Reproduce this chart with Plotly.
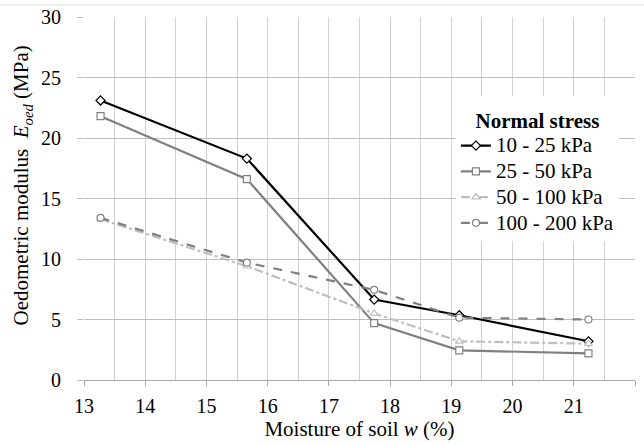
import plotly.graph_objects as go

moisture = [13.27, 15.66, 17.74, 19.13, 21.24]
s_10_25 = [23.1, 18.3, 6.65, 5.35, 3.2]
s_25_50 = [21.8, 16.6, 4.7, 2.45, 2.2]
s_50_100 = [13.3, 9.4, 5.5, 3.2, 3.0]
s_100_200 = [13.4, 9.7, 7.45, 5.15, 5.0]
names = ["10 - 25 kPa", "25 - 50 kPa", "50 - 100 kPa", "100 - 200 kPa"]

FONT = "Liberation Serif"
FONT2 = "Tinos"
fig = go.Figure()
specs = [
    (s_10_25, "#000000", "solid", "diamond"),
    (s_25_50, "#808080", "solid", "square"),
    (s_50_100, "#bfbfbf", "dashdot", "triangle-up"),
    (s_100_200, "#808080", "dash", "circle"),
]
for name, (vals, col, dash, sym) in zip(names, specs):
    fig.add_trace(go.Scatter(
        x=moisture, y=vals, mode="lines+markers",
        name="<span style='font-size:21px'>" + name + "</span>",
        line=dict(color=col, width=2.2, dash=dash),
        marker=dict(symbol=sym, size=7, color="white", line=dict(color=col, width=1.2)),
    ))

fig.update_layout(
    template="none",
    width=644, height=446,
    margin=dict(l=84, r=9, t=17, b=66, autoexpand=False),
    paper_bgcolor="white", plot_bgcolor="white",
    font=dict(family=FONT2, size=20, color="black"),
    showlegend=True,
    legend=dict(
        title=dict(text="<span style='font-size:21px'><b>Normal stress</b></span>",
                   font=dict(family=FONT2, size=24), side="top center"),
        x=0.675, y=0.781, xanchor="left", yanchor="top",
        bgcolor="white", font=dict(family=FONT2, size=17.5),
        tracegroupgap=0, itemwidth=30,
    ),
    xaxis=dict(
        range=[13, 22], dtick=1, tick0=13, automargin=False,
        showgrid=True, gridcolor="#d0d0d0", gridwidth=1,
        minor=dict(dtick=0.5, showgrid=True, gridcolor="#d0d0d0", gridwidth=1),
        showline=True, linecolor="#a6a6a6", linewidth=1,
        ticks="outside", ticklen=5, tickcolor="#a6a6a6",
        ticklabelstandoff=3,
        tickfont=dict(family=FONT2, size=20),
        title=dict(text="Moisture of soil <i>w</i> (%)", font=dict(family=FONT2, size=21), standoff=3),
        zeroline=False,
    ),
    yaxis=dict(
        range=[0, 30], dtick=5, automargin=False,
        showgrid=True, gridcolor="#bfbfbf", gridwidth=1,
        showline=False,
        ticks="outside", ticklen=6, tickcolor="#bfbfbf",
        ticklabelstandoff=12,
        tickfont=dict(family=FONT, size=20),
        title=dict(text="&nbsp;&nbsp;&nbsp;&nbsp;&nbsp;Oedometric modulus  <i>E</i><sub><i>oed</i></sub> (MPa)",
                   font=dict(family=FONT, size=21), standoff=6),
        zeroline=False,
    ),
    shapes=[dict(type="line", xref="paper", yref="paper", x0=-84/551, x1=1+9/551,
                 y0=1+12/363, y1=1+12/363, line=dict(color="#e0e0e0", width=1))],
)

fig.write_html("out.html", config={"displayModeBar": False},
               post_script="document.body.style.margin='0';")
